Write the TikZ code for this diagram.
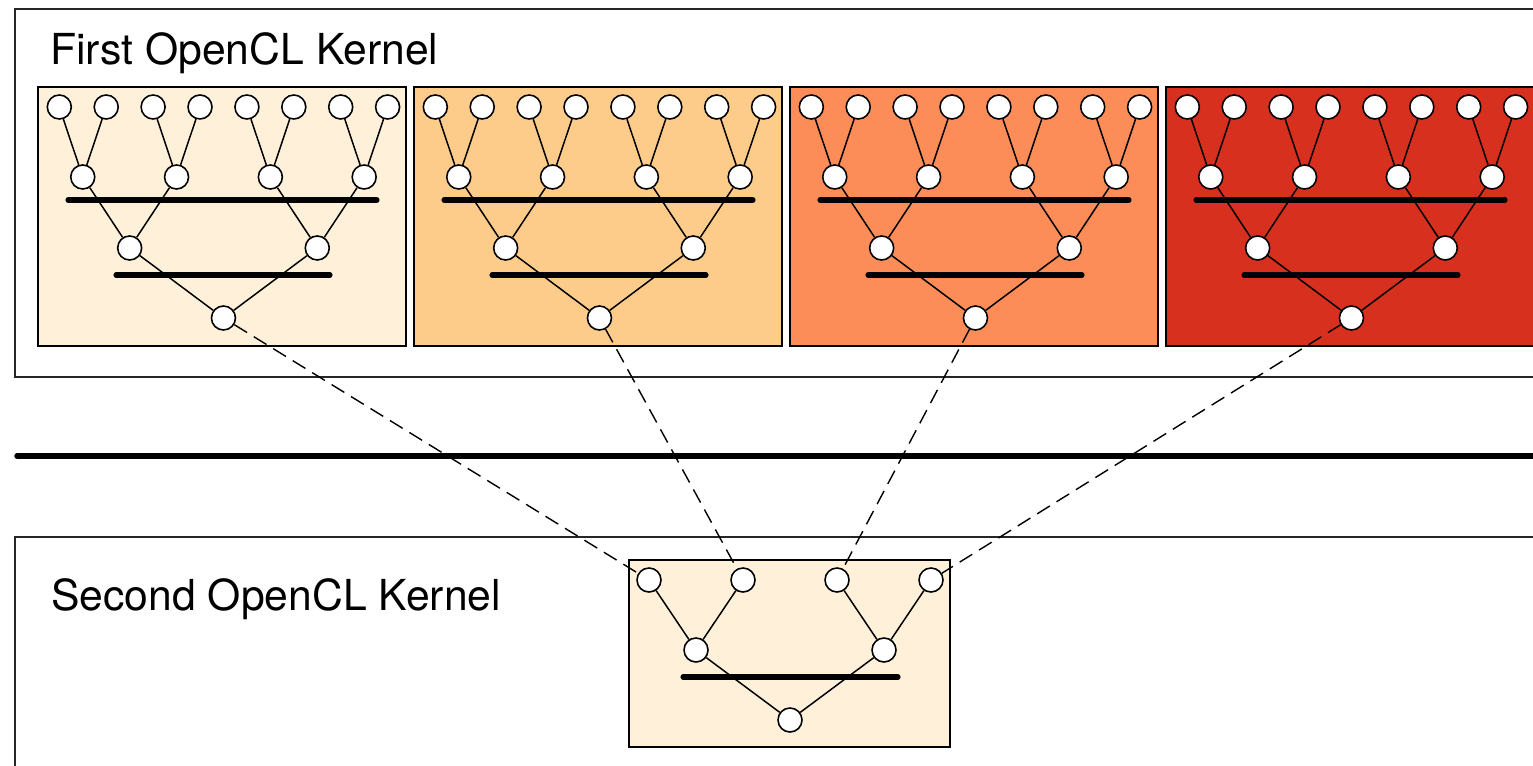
\documentclass[tikz,border=0pt]{standalone}
\usepackage{fontspec}
\setmainfont{TeX Gyre Heros}
\usetikzlibrary{positioning}

\definecolor{panelA}{HTML}{FEF0D9}
\definecolor{panelB}{HTML}{FDCC8A}
\definecolor{panelC}{HTML}{FC8D59}
\definecolor{panelD}{HTML}{D7301F}

\tikzset{
    dot/.style={
           circle,
           draw=black,
           fill=white,
           line width=0.9pt,
           minimum size=0.48cm,
           inner sep=0pt,
           },
    panel/.style={draw=black, line width=0.8pt},
    kernel/.style={draw=black!85, line width=0.8pt},
    barrier/.style={line width=2.9pt, line cap=round},
    link/.style={line width=0.85pt},
    reduce/.style={dash pattern=on 8.5pt off 4.5pt, line width=0.8pt},
    title/.style={anchor=base west, inner sep=0pt, font=\fontsize{24.3}{29}\selectfont},
}

\begin{document}
\begin{tikzpicture}[x=0.02cm, y=-0.02cm]

 \useasboundingbox (0,0) rectangle (1533,766);
 \clip (0,0) rectangle (1533,766);

 % the two kernels
 \draw[kernel] (15,9) rectangle (1560,377);
 \draw[kernel] (15,537) rectangle (1560,790);
 \node[title] (FIRST) at (50,65) {First OpenCL Kernel};
 \node[title] (SECOND) at (51,610) {Second OpenCL Kernel};

 % global barrier
 \draw[barrier, line width=3.1pt] (17,456) -- (1560,456);

 % work groups of the first kernel
 \foreach \i/\col in {0/panelA,1/panelB,2/panelC,3/panelD} {
   \pgfmathsetmacro{\px}{38+376*\i}
   \draw[panel, fill=\col] (\px,87) rectangle ++(368,259);
   \draw[barrier] (\px+30,200) -- (\px+339,200);
   \draw[barrier] (\px+78,275) -- (\px+292,275);
   \foreach \k in {0,...,7}
     \node[dot] (leaf-\i-\k) at (\px+21.3+46.9*\k,107) {};
   \foreach \k in {0,...,3}
     \node[dot] (mid-\i-\k) at (\px+44.75+93.8*\k,177) {};
   \foreach \k in {0,1}
     \node[dot] (half-\i-\k) at (\px+91.65+187.6*\k,248) {};
   \node[dot] (root-\i) at (\px+185.45,318) {};
   \foreach \k in {0,...,3} {
     \pgfmathtruncatemacro{\a}{2*\k}
     \pgfmathtruncatemacro{\b}{2*\k+1}
     \draw[link] (mid-\i-\k) -- (leaf-\i-\a)
                 (mid-\i-\k) -- (leaf-\i-\b);
   }
   \draw[link] (half-\i-0) -- (mid-\i-0) (half-\i-0) -- (mid-\i-1)
               (half-\i-1) -- (mid-\i-2) (half-\i-1) -- (mid-\i-3)
               (root-\i) -- (half-\i-0) (root-\i) -- (half-\i-1);
 }

 % work group of the second kernel
 \draw[panel, fill=panelA] (629,560) rectangle (950,747);
 \draw[barrier] (683,677) -- (898,677);
 \foreach \k in {0,...,3}
   \node[dot] (low-\k) at (649+94*\k,580) {};
 \node[dot] (lowmid-0) at (696,650) {};
 \node[dot] (lowmid-1) at (884,650) {};
 \node[dot] (lowroot) at (790,720) {};
 \draw[link] (lowmid-0) -- (low-0) (lowmid-0) -- (low-1)
             (lowmid-1) -- (low-2) (lowmid-1) -- (low-3)
             (lowroot) -- (lowmid-0) (lowroot) -- (lowmid-1);

 % partial results passed on
 \foreach \i in {0,...,3}
   \draw[reduce] (root-\i) -- (low-\i);

\end{tikzpicture}
\end{document}
